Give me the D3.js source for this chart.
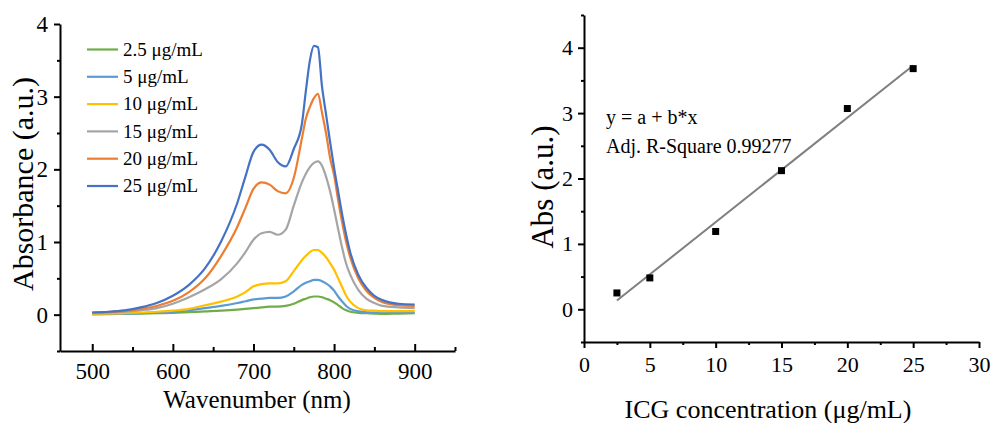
<!DOCTYPE html>
<html>
<head>
<meta charset="utf-8">
<script src="https://cdn.jsdelivr.net/npm/d3@7"></script>
<style>
  body { margin: 0; background: #fff; }
  svg text { font-family: "Liberation Serif", "Times New Roman", serif; fill: #000; }
</style>
</head>
<body>
<svg width="994" height="423"></svg>
<script>
/* Spectra */
let wavelengths = [500, 520, 540, 560, 580, 600, 620, 640, 660, 680, 690, 700, 710, 720, 730, 740, 750, 760, 765, 770, 775, 780, 785, 790, 795, 800, 805, 810, 815, 820, 830, 840, 850, 860, 880, 900]
let abs2_5 = [0.005, 0.007, 0.01, 0.015, 0.02, 0.025, 0.035, 0.045, 0.055, 0.07, 0.08, 0.09, 0.10, 0.11, 0.11, 0.12, 0.15, 0.20, 0.22, 0.24, 0.25, 0.25, 0.24, 0.22, 0.20, 0.17, 0.13, 0.09, 0.06, 0.04, 0.025, 0.02, 0.015, 0.01, 0.015, 0.02]
let abs5 = [0.01, 0.01, 0.015, 0.02, 0.03, 0.04, 0.06, 0.09, 0.12, 0.16, 0.185, 0.21, 0.22, 0.23, 0.23, 0.25, 0.32, 0.41, 0.44, 0.46, 0.48, 0.48, 0.46, 0.43, 0.39, 0.33, 0.25, 0.18, 0.12, 0.08, 0.045, 0.035, 0.03, 0.03, 0.03, 0.03]
let abs10 = [0.01, 0.015, 0.02, 0.03, 0.04, 0.055, 0.08, 0.13, 0.18, 0.25, 0.31, 0.39, 0.42, 0.43, 0.43, 0.46, 0.60, 0.75, 0.81, 0.86, 0.89, 0.89, 0.85, 0.79, 0.71, 0.62, 0.50, 0.38, 0.26, 0.18, 0.09, 0.06, 0.055, 0.05, 0.05, 0.05]
let abs15 = [0.02, 0.03, 0.04, 0.06, 0.09, 0.15, 0.24, 0.35, 0.49, 0.71, 0.86, 1.03, 1.12, 1.14, 1.10, 1.17, 1.50, 1.82, 1.94, 2.03, 2.09, 2.11, 2.05, 1.90, 1.70, 1.45, 1.18, 0.92, 0.70, 0.55, 0.34, 0.22, 0.16, 0.12, 0.10, 0.09]
let abs20 = [0.03, 0.035, 0.05, 0.08, 0.12, 0.19, 0.31, 0.50, 0.81, 1.21, 1.47, 1.73, 1.82, 1.79, 1.70, 1.67, 1.88, 2.42, 2.70, 2.86, 2.98, 3.04, 2.78, 2.50, 2.16, 1.92, 1.58, 1.27, 1.00, 0.79, 0.50, 0.33, 0.23, 0.17, 0.13, 0.12]
let abs25 = [0.03, 0.04, 0.06, 0.10, 0.16, 0.26, 0.41, 0.64, 1.01, 1.54, 1.90, 2.24, 2.34, 2.27, 2.10, 2.04, 2.28, 2.62, 3.08, 3.50, 3.70, 3.68, 3.14, 2.76, 2.38, 2.02, 1.70, 1.38, 1.10, 0.86, 0.55, 0.37, 0.26, 0.20, 0.15, 0.14]

let seriesLabels = ['2.5 μg/mL', '5 μg/mL', '10 μg/mL', '15 μg/mL', '20 μg/mL', '25 μg/mL']
let seriesColors = ['#70ad47', '#5b9bd5', '#ffc000', '#a5a5a5', '#ed7d31', '#4472c4']
let seriesValues = [abs2_5, abs5, abs10, abs15, abs20, abs25]

/* Calibration points */
let concentrations = [2.5, 5, 10, 15, 20, 25]
let peakAbs = [0.25, 0.48, 1.19, 2.12, 3.07, 3.68]

let serif = '"Liberation Serif", "Times New Roman", serif'
let svg = d3.select('svg')

/* ---------- left panel: spectra ---------- */
let xSpec = d3.scaleLinear().domain([460, 950]).range([60, 455])
let ySpec = d3.scaleLinear().domain([-0.5, 4]).range([351, 24])

let line = d3.line()
  .x(d => xSpec(d[0]))
  .y(d => ySpec(d[1]))
  .curve(d3.curveMonotoneX)

seriesValues.forEach((vals, i) => {
  svg.append('path')
    .datum(wavelengths.map((w, j) => [w, vals[j]]))
    .attr('d', line)
    .attr('fill', 'none')
    .attr('stroke', seriesColors[i])
    .attr('stroke-width', 2.2)
})

/* x axis (ticks point inward) */
let gxS = svg.append('g').attr('transform', 'translate(0,351)')
gxS.call(d3.axisBottom(xSpec).tickValues([500, 600, 700, 800, 900]).tickFormat(d3.format('d'))
  .tickSize(-7).tickSizeOuter(0).tickPadding(12))
gxS.append('g').call(d3.axisBottom(xSpec).tickValues([550, 650, 750, 850, 950]).tickSize(-4).tickFormat(''))
  .select('.domain').remove()

/* y axis */
let gyS = svg.append('g').attr('transform', 'translate(60,0)')
gyS.call(d3.axisLeft(ySpec).tickValues([0, 1, 2, 3, 4]).tickFormat(d3.format('d'))
  .tickSize(6).tickSizeOuter(0).tickPadding(6))
gyS.append('g').call(d3.axisLeft(ySpec).tickValues([-0.5, 0.5, 1.5, 2.5, 3.5]).tickSize(3).tickFormat(''))
  .select('.domain').remove()

gxS.selectAll('.tick text').style('font-size', '23px').style('font-family', serif)
gyS.selectAll('.tick text').style('font-size', '23px').style('font-family', serif)

/* legend */
let legend = svg.append('g')
seriesLabels.forEach((lab, i) => {
  let y = 49.5 + i * 27.3
  legend.append('line')
    .attr('x1', 87).attr('x2', 118).attr('y1', y).attr('y2', y)
    .attr('stroke', seriesColors[i]).attr('stroke-width', 2.2)
  legend.append('text')
    .attr('x', 123).attr('y', y).attr('dy', '0.33em')
    .style('font-size', '19px')
    .text(lab)
})

svg.append('text')
  .attr('x', 257).attr('y', 408)
  .attr('text-anchor', 'middle')
  .style('font-size', '25px')
  .text('Wavenumber (nm)')

svg.append('text')
  .attr('transform', 'translate(33,184) rotate(-90)')
  .attr('text-anchor', 'middle')
  .style('font-size', '30px')
  .text('Absorbance (a.u.)')

/* ---------- right panel: calibration ---------- */
let xCal = d3.scaleLinear().domain([0, 30]).range([584, 979])
let yCal = d3.scaleLinear().domain([-0.5, 4.5]).range([342, 15])

/* linear fit of the points */
let mx = d3.mean(concentrations)
let my = d3.mean(peakAbs)
let sxy = d3.sum(concentrations, (x, i) => (x - mx) * (peakAbs[i] - my))
let sxx = d3.sum(concentrations, x => (x - mx) * (x - mx))
let slope = sxy / sxx
let intercept = my - slope * mx
let fitX = d3.extent(concentrations)

svg.append('line')
  .attr('x1', xCal(fitX[0])).attr('y1', yCal(intercept + slope * fitX[0]))
  .attr('x2', xCal(fitX[1])).attr('y2', yCal(intercept + slope * fitX[1]))
  .attr('stroke', '#7f7f7f')
  .attr('stroke-width', 2)

svg.selectAll('.pt')
  .data(concentrations)
  .enter()
  .append('rect')
    .classed('pt', true)
    .attr('x', d => xCal(d) - 3.5)
    .attr('y', (d, i) => yCal(peakAbs[i]) - 3.5)
    .attr('width', 7)
    .attr('height', 7)
    .attr('fill', '#000')

let gxC = svg.append('g').attr('transform', 'translate(0,342)')
gxC.call(d3.axisBottom(xCal).tickValues([0, 5, 10, 15, 20, 25, 30]).tickFormat(d3.format('d'))
  .tickSize(6).tickSizeOuter(0).tickPadding(8))
gxC.append('g').call(d3.axisBottom(xCal).tickValues([2.5, 7.5, 12.5, 17.5, 22.5, 27.5]).tickSize(3).tickFormat(''))
  .select('.domain').remove()

let gyC = svg.append('g').attr('transform', 'translate(584,0)')
gyC.call(d3.axisLeft(yCal).tickValues([0, 1, 2, 3, 4]).tickFormat(d3.format('d'))
  .tickSize(6).tickSizeOuter(0).tickPadding(5))
gyC.append('g').call(d3.axisLeft(yCal).tickValues([-0.5, 0.5, 1.5, 2.5, 3.5, 4.5]).tickSize(3).tickFormat(''))
  .select('.domain').remove()

gxC.selectAll('.tick text').style('font-size', '22px').style('font-family', serif)
gyC.selectAll('.tick text').style('font-size', '22px').style('font-family', serif)

svg.selectAll('.domain, .tick line').attr('stroke', '#000').attr('stroke-width', 2)

svg.append('text')
  .attr('x', 606).attr('y', 124)
  .style('font-size', '20px')
  .text('y = a + b*x')

svg.append('text')
  .attr('x', 606).attr('y', 153)
  .style('font-size', '20px')
  .text('Adj. R-Square 0.99277')

svg.append('text')
  .attr('x', 768).attr('y', 418)
  .attr('text-anchor', 'middle')
  .style('font-size', '26px')
  .text('ICG concentration (μg/mL)')

svg.append('text')
  .attr('transform', 'translate(553,187) rotate(-90)')
  .attr('text-anchor', 'middle')
  .style('font-size', '31px')
  .text('Abs (a.u.)')
</script>
</body>
</html>
